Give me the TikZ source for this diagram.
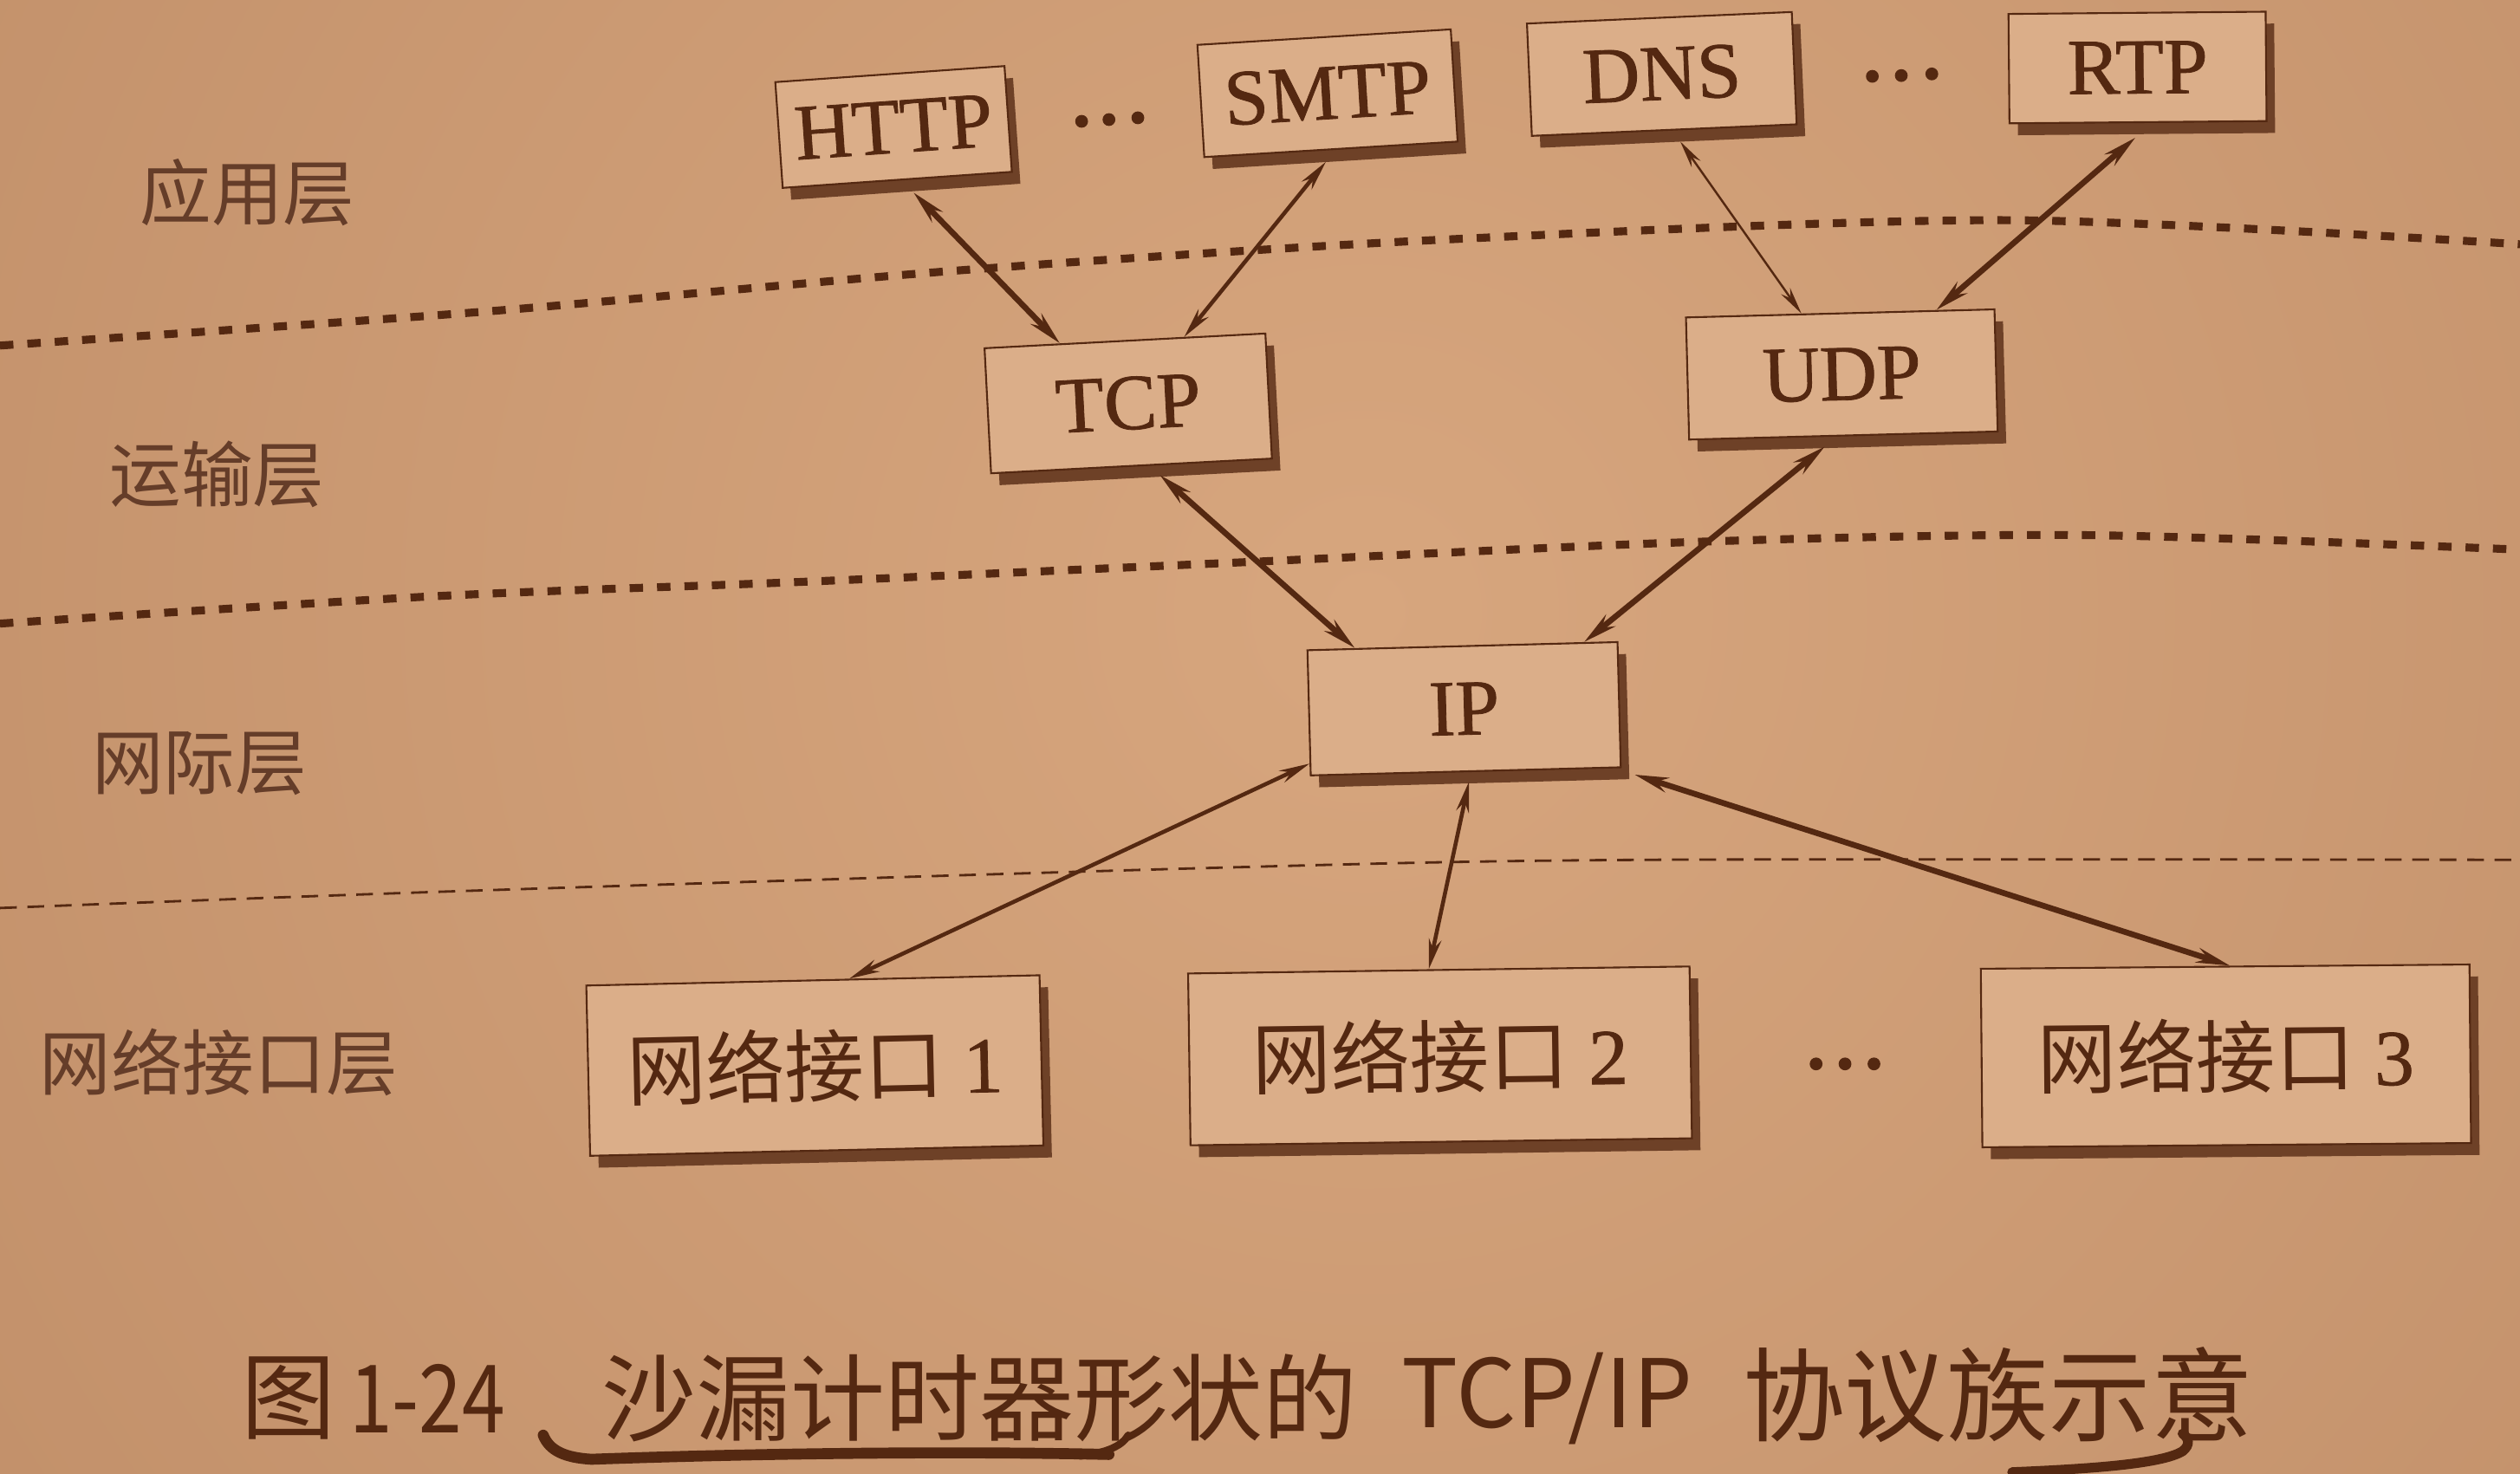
\documentclass[tikz,border=0pt]{standalone}
\usepackage{fontspec}
\setmainfont{Liberation Serif}
\newfontfamily\boxfont[FakeBold=0.9]{Liberation Serif}
\newfontfamily\cjk{Noto Sans CJK SC}
\usetikzlibrary{arrows.meta,calc,shadows}
\definecolor{bgIn}{HTML}{D7A67E}
\definecolor{bgOut}{HTML}{C08E68}
\definecolor{boxfill}{HTML}{DBAE89}
\definecolor{ink}{HTML}{542811}
\colorlet{shadowc}{ink!80!bgIn}
\begin{document}
\begin{tikzpicture}[x=0.01854cm,y=-0.01854cm,
  pbox/.style={draw=ink, line width=0.6pt, fill=boxfill, inner sep=0pt, text=ink,
    font=\boxfont\fontsize{26}{30}\selectfont,
    drop shadow={shadow xshift=2.8pt, shadow yshift=-3.9pt, fill=shadowc, opacity=1}},
  lab/.style={text=ink!90, inner sep=0pt, font={\cjk\fontsize{23.5}{28}\selectfont}},
  captxt/.style={text=ink, inner sep=0pt, anchor=west, font={\cjk\fontsize{31}{36}\selectfont}},
  dotn/.style={circle, fill=ink, inner sep=0pt, minimum size=4.2pt},
  heavydot/.style={ink, line width=2.6pt, dash pattern=on 4.4pt off 4.6pt},
  thindash/.style={ink, line width=0.8pt, dash pattern=on 5.5pt off 3.5pt},
  thk/.style={line width=1.9pt, {Stealth[length=11pt,width=4.8pt]}-{Stealth[length=11pt,width=4.8pt]}},
  med/.style={line width=1.3pt, {Stealth[length=10pt,width=4.2pt]}-{Stealth[length=10pt,width=4.2pt]}},
  thn/.style={line width=0.7pt, {Stealth[length=9pt,width=3.6pt]}-{Stealth[length=9pt,width=3.6pt]}},
  arr/.style={draw=ink, fill=none}
]
\useasboundingbox (0,0) rectangle (1568,917);
% background
\fill[bgOut] (0,0) rectangle (1568,917);
\begin{scope}
  \clip (0,0) rectangle (1568,917);
  \shade[inner color=bgIn, outer color=bgOut] (850,380) circle (1150);
\end{scope}

% layer separators
\draw[heavydot] plot[smooth] coordinates {(0,215) (300,194) (600,168) (900,149) (1250,137) (1568,152)};
\draw[heavydot] plot[smooth] coordinates {(0,388) (270,371) (500,362) (770,350) (1060,337) (1300,333) (1568,342)};
\draw[thindash] plot[smooth] coordinates {(0,565) (270,555) (755,540) (1024,535) (1568,535)};

% layer labels
\node[lab] (l1) at (154,120) {应用层};
\node[lab] (l2) at (135,295) {运输层};
\node[lab] (l3) at (124,475) {网际层};
\node[lab] (l4) at (136,661) {网络接口层};

% boxes
\node[pbox, minimum width=75.4pt, minimum height=34.8pt, rotate=4] (http) at (556,79) {HTTP};
\node[pbox, minimum width=83.3pt, minimum height=36.9pt, rotate=3.5] (smtp) at (826,58) {SMTP};
\node[pbox, minimum width=87.0pt, minimum height=36.9pt, rotate=2.5] (dns) at (1034,46) {DNS};
\node[pbox, minimum width=84.4pt, minimum height=35.9pt, rotate=0.5] (rtp) at (1330,42) {RTP};
\node[pbox, minimum width=92.3pt, minimum height=41.1pt, rotate=3] (tcp) at (702,251) {TCP};
\node[pbox, minimum width=101.3pt, minimum height=40.1pt, rotate=1.5] (udp) at (1146,233) {UDP};
\node[pbox, minimum width=101.8pt, minimum height=41.1pt, rotate=1.5] (ip) at (911,441) {IP};
\node[pbox, minimum width=148.8pt, minimum height=55.9pt, rotate=1.3] (ni1) at (507,663) {{\cjk 网络接口} 1};
\node[pbox, minimum width=164.6pt, minimum height=56.4pt, rotate=0.8] (ni2) at (896,657) {{\cjk 网络接口} 2};
\node[pbox, minimum width=160.4pt, minimum height=58.6pt, rotate=0.5] (ni3) at (1385,657) {{\cjk 网络接口} 3};

% ellipses
\node[dotn] (d1) at (673,75.5) {};
\node[dotn] (d2) at (690,74.4) {};
\node[dotn] (d3) at (708,73.3) {};
\node[dotn] (d4) at (1165,47.5) {};
\node[dotn] (d5) at (1183,47) {};
\node[dotn] (d6) at (1202,46) {};
\node[dotn] (d7) at (1130,662) {};
\node[dotn] (d8) at (1148,662) {};
\node[dotn] (d9) at (1166,662) {};

% connectors
\draw[arr, thk] ($(http.south west)!0.57!(http.south east)+(0,8)$) -- ($(tcp.north west)!0.27!(tcp.north east)$);
\draw[arr, med] ($(smtp.south west)!0.48!(smtp.south east)+(0,7)$) -- ($(tcp.north west)!0.71!(tcp.north east)$);
\draw[arr, thn] ($(dns.south west)!0.56!(dns.south east)+(0,7)$) -- ($(udp.north west)!0.375!(udp.north east)$);
\draw[arr, thk] ($(rtp.south west)!0.49!(rtp.south east)+(0,9)$) -- ($(udp.north west)!0.81!(udp.north east)$);
\draw[arr, thk] ($(tcp.south west)!0.6!(tcp.south east)+(0,6)$) -- ($(ip.north west)!0.155!(ip.north east)$);
\draw[arr, thk] ($(udp.south west)!0.44!(udp.south east)+(0,6)$) -- ($(ip.north west)!0.89!(ip.north east)$);
\draw[arr, med] ($(ip.south west)!0.1!(ip.north west)$) -- ($(ni1.north west)!0.58!(ni1.north east)$);
\draw[arr, med] ($(ip.south west)!0.51!(ip.south east)+(0,6)$) -- ($(ni2.north west)!0.48!(ni2.north east)$);
\draw[arr, thk] ($(ip.south east)+(8,4)$) -- ($(ni3.north west)!0.51!(ni3.north east)$);

% caption
\node[captxt] (c1) at (150,870) {图};
\node[captxt, xscale=0.82] (c2) at (217,870) {1-24};
\node[captxt] (c3) at (374,870) {沙漏计时器形状的};
\node[captxt] (c4) at (872,870) {TCP/IP};
\node[captxt, font={\cjk\fontsize{33.5}{38}\selectfont}] (c5) at (1084,868) {协议族示意};

% handwritten underline
\draw[ink, line width=3.6pt, line cap=round] (338,893) .. controls (342,903) and (352,907) .. (368,908) .. controls (480,904) and (600,903) .. (690,905);
\draw[ink, line width=2.4pt, line cap=round] (672,906) .. controls (688,904) and (698,900) .. (702,893);
\draw[ink, line width=3.2pt, line cap=round] (1252,916) .. controls (1300,914) and (1345,911) .. (1358,903) .. controls (1363,899) and (1362,895) .. (1358,892);
\end{tikzpicture}
\end{document}
